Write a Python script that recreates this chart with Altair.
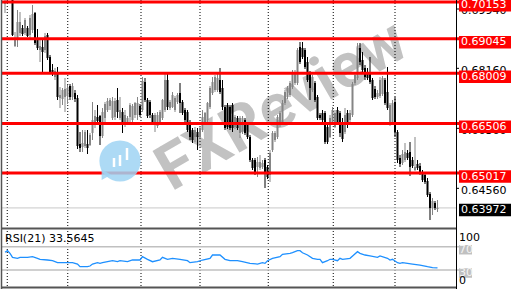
import altair as alt
import pandas as pd

# ---------------- data ----------------
opens = [
    0.7009, 0.7033, 0.7039, 0.7030, 0.6883, 0.6901, 0.6922, 0.6937, 0.6922, 0.6937,
    0.6916, 0.6931, 0.6982, 0.6904, 0.6871, 0.6880, 0.6871, 0.6916, 0.6850, 0.6811,
    0.6790, 0.6805, 0.6727, 0.6724, 0.6730, 0.6733, 0.6763, 0.6730, 0.6742, 0.6727,
    0.6589, 0.6580, 0.6583, 0.6589, 0.6586, 0.6622, 0.6649, 0.6670, 0.6673, 0.6613,
    0.6667, 0.6691, 0.6703, 0.6667, 0.6670, 0.6721, 0.6667, 0.6685, 0.6646, 0.6652,
    0.6670, 0.6661, 0.6676, 0.6676, 0.6703, 0.6691, 0.6775, 0.6721, 0.6715, 0.6676,
    0.6646, 0.6643, 0.6652, 0.6667, 0.6691, 0.6781, 0.6697, 0.6700, 0.6691, 0.6715,
    0.6742, 0.6715, 0.6691, 0.6685, 0.6652, 0.6631, 0.6610, 0.6625, 0.6610, 0.6631,
    0.6652, 0.6661, 0.6700, 0.6742, 0.6751, 0.6751, 0.6781, 0.6757, 0.6700, 0.6706,
    0.6700, 0.6706, 0.6640, 0.6667, 0.6622, 0.6625, 0.6661, 0.6646, 0.6610, 0.6541,
    0.6541, 0.6520, 0.6517, 0.6520, 0.6541, 0.6520, 0.6496, 0.6571, 0.6601, 0.6610,
    0.6646, 0.6652, 0.6712, 0.6730, 0.6736, 0.6760, 0.6772, 0.6772, 0.6880, 0.6877,
    0.6871, 0.6835, 0.6802, 0.6751, 0.6772, 0.6730, 0.6676, 0.6682, 0.6682, 0.6640,
    0.6610, 0.6652, 0.6640, 0.6691, 0.6682, 0.6655, 0.6625, 0.6682, 0.6661, 0.6676,
    0.6772, 0.6787, 0.6877, 0.6841, 0.6817, 0.6805, 0.6802, 0.6781, 0.6754, 0.6730,
    0.6733, 0.6739, 0.6781, 0.6745, 0.6649, 0.6655, 0.6715, 0.6625, 0.6547, 0.6532,
    0.6541, 0.6562, 0.6565, 0.6541, 0.6511, 0.6529, 0.6523, 0.6505, 0.6496, 0.6478,
    0.6439, 0.6397, 0.6412, 0.6394,
]
highs = [
    0.7021, 0.7051, 0.7057, 0.7036, 0.6925, 0.6991, 0.6985, 0.6946, 0.6967, 0.6943,
    0.6976, 0.7006, 0.6985, 0.6934, 0.6901, 0.6907, 0.6922, 0.6922, 0.6856, 0.6829,
    0.6817, 0.6820, 0.6760, 0.6757, 0.6787, 0.6766, 0.6769, 0.6772, 0.6751, 0.6736,
    0.6625, 0.6631, 0.6631, 0.6631, 0.6622, 0.6715, 0.6691, 0.6706, 0.6676, 0.6697,
    0.6715, 0.6727, 0.6727, 0.6730, 0.6727, 0.6757, 0.6730, 0.6697, 0.6691, 0.6673,
    0.6712, 0.6709, 0.6715, 0.6730, 0.6709, 0.6790, 0.6787, 0.6727, 0.6721, 0.6682,
    0.6682, 0.6685, 0.6691, 0.6724, 0.6805, 0.6805, 0.6721, 0.6745, 0.6733, 0.6742,
    0.6772, 0.6721, 0.6697, 0.6691, 0.6661, 0.6637, 0.6640, 0.6637, 0.6643, 0.6691,
    0.6685, 0.6715, 0.6763, 0.6790, 0.6796, 0.6802, 0.6817, 0.6781, 0.6706, 0.6712,
    0.6706, 0.6712, 0.6676, 0.6673, 0.6673, 0.6673, 0.6667, 0.6652, 0.6616, 0.6547,
    0.6547, 0.6550, 0.6556, 0.6541, 0.6547, 0.6526, 0.6571, 0.6628, 0.6628, 0.6676,
    0.6688, 0.6721, 0.6751, 0.6763, 0.6778, 0.6811, 0.6811, 0.6877, 0.6895, 0.6895,
    0.6877, 0.6850, 0.6808, 0.6796, 0.6778, 0.6736, 0.6682, 0.6691, 0.6688, 0.6646,
    0.6676, 0.6700, 0.6691, 0.6700, 0.6688, 0.6667, 0.6697, 0.6691, 0.6691, 0.6775,
    0.6805, 0.6892, 0.6892, 0.6865, 0.6826, 0.6817, 0.6850, 0.6787, 0.6763, 0.6751,
    0.6790, 0.6793, 0.6787, 0.6820, 0.6712, 0.6721, 0.6730, 0.6631, 0.6556, 0.6571,
    0.6592, 0.6571, 0.6595, 0.6550, 0.6610, 0.6541, 0.6532, 0.6511, 0.6505, 0.6487,
    0.6445, 0.6427, 0.6418, 0.6421,
]
lows = [
    0.6982, 0.7024, 0.7024, 0.6913, 0.6880, 0.6880, 0.6913, 0.6913, 0.6916, 0.6910,
    0.6907, 0.6922, 0.6886, 0.6871, 0.6835, 0.6805, 0.6862, 0.6841, 0.6799, 0.6793,
    0.6781, 0.6721, 0.6697, 0.6706, 0.6685, 0.6709, 0.6721, 0.6721, 0.6715, 0.6574,
    0.6565, 0.6565, 0.6577, 0.6559, 0.6583, 0.6601, 0.6637, 0.6646, 0.6586, 0.6607,
    0.6655, 0.6685, 0.6691, 0.6661, 0.6661, 0.6667, 0.6661, 0.6622, 0.6640, 0.6646,
    0.6652, 0.6655, 0.6667, 0.6661, 0.6670, 0.6685, 0.6715, 0.6667, 0.6667, 0.6649,
    0.6625, 0.6637, 0.6646, 0.6661, 0.6685, 0.6691, 0.6691, 0.6697, 0.6685, 0.6709,
    0.6682, 0.6676, 0.6655, 0.6625, 0.6601, 0.6592, 0.6595, 0.6571, 0.6604, 0.6625,
    0.6646, 0.6655, 0.6694, 0.6736, 0.6745, 0.6745, 0.6739, 0.6691, 0.6631, 0.6634,
    0.6631, 0.6625, 0.6634, 0.6631, 0.6607, 0.6619, 0.6616, 0.6604, 0.6535, 0.6511,
    0.6496, 0.6490, 0.6511, 0.6514, 0.6457, 0.6484, 0.6475, 0.6565, 0.6595, 0.6604,
    0.6640, 0.6646, 0.6706, 0.6724, 0.6730, 0.6754, 0.6766, 0.6766, 0.6829, 0.6844,
    0.6814, 0.6775, 0.6721, 0.6745, 0.6715, 0.6661, 0.6661, 0.6655, 0.6589, 0.6589,
    0.6607, 0.6646, 0.6637, 0.6649, 0.6610, 0.6595, 0.6619, 0.6637, 0.6655, 0.6670,
    0.6766, 0.6781, 0.6826, 0.6805, 0.6781, 0.6781, 0.6769, 0.6721, 0.6724, 0.6724,
    0.6727, 0.6733, 0.6706, 0.6691, 0.6643, 0.6649, 0.6610, 0.6532, 0.6520, 0.6526,
    0.6535, 0.6541, 0.6493, 0.6517, 0.6508, 0.6511, 0.6496, 0.6475, 0.6469, 0.6430,
    0.6361, 0.6376, 0.6391, 0.6385,
]
closes = [
    0.7015, 0.7039, 0.7030, 0.6916, 0.6907, 0.6955, 0.6955, 0.6919, 0.6961, 0.6913,
    0.6967, 0.6979, 0.6892, 0.6877, 0.6883, 0.6865, 0.6913, 0.6847, 0.6805, 0.6799,
    0.6808, 0.6730, 0.6736, 0.6751, 0.6754, 0.6757, 0.6730, 0.6763, 0.6724, 0.6583,
    0.6577, 0.6592, 0.6625, 0.6577, 0.6616, 0.6661, 0.6673, 0.6658, 0.6613, 0.6685,
    0.6709, 0.6718, 0.6721, 0.6718, 0.6718, 0.6685, 0.6691, 0.6652, 0.6676, 0.6667,
    0.6706, 0.6703, 0.6712, 0.6712, 0.6676, 0.6778, 0.6721, 0.6673, 0.6676, 0.6655,
    0.6676, 0.6676, 0.6685, 0.6721, 0.6781, 0.6700, 0.6715, 0.6736, 0.6727, 0.6736,
    0.6712, 0.6682, 0.6661, 0.6631, 0.6610, 0.6601, 0.6631, 0.6610, 0.6637, 0.6670,
    0.6682, 0.6712, 0.6757, 0.6775, 0.6790, 0.6787, 0.6745, 0.6700, 0.6637, 0.6640,
    0.6637, 0.6637, 0.6670, 0.6637, 0.6667, 0.6667, 0.6622, 0.6610, 0.6541, 0.6517,
    0.6502, 0.6535, 0.6535, 0.6532, 0.6502, 0.6490, 0.6562, 0.6622, 0.6622, 0.6670,
    0.6682, 0.6712, 0.6745, 0.6757, 0.6772, 0.6805, 0.6805, 0.6871, 0.6835, 0.6850,
    0.6820, 0.6781, 0.6757, 0.6790, 0.6721, 0.6667, 0.6667, 0.6661, 0.6595, 0.6595,
    0.6667, 0.6691, 0.6682, 0.6655, 0.6622, 0.6604, 0.6676, 0.6646, 0.6682, 0.6769,
    0.6796, 0.6877, 0.6835, 0.6811, 0.6790, 0.6787, 0.6775, 0.6727, 0.6730, 0.6742,
    0.6781, 0.6787, 0.6712, 0.6697, 0.6706, 0.6712, 0.6625, 0.6541, 0.6529, 0.6559,
    0.6565, 0.6547, 0.6520, 0.6523, 0.6520, 0.6517, 0.6502, 0.6481, 0.6475, 0.6436,
    0.6397, 0.6418, 0.6397, 0.63972,
]

rsi_idx = [0, 1, 2, 3, 5, 6, 9, 11, 13, 14, 17, 19, 21, 25, 27, 29, 30, 33, 34, 35,
           37, 38, 39, 41, 43, 45, 46, 49, 51, 54, 55, 57, 59, 62, 63, 65, 67, 70, 73, 74,
           77, 79, 82, 83, 86, 88, 90, 93, 95, 98, 101, 103, 104, 105, 107, 110, 111, 114, 115, 117,
           118, 119, 121, 123, 125, 126, 127, 129, 130, 131, 133, 134, 135, 138, 141, 142, 144, 146, 149, 150,
           153, 154, 155, 157, 158, 159, 161, 163, 166, 169, 171, 173]
rsi_val = [60.4, 63.2, 58.7, 51.8, 50.1, 51.8, 51.8, 52.9, 50.1, 48.4, 47.2, 46.0, 42.6, 42.6, 42.6, 40.3, 35.7, 35.7, 36.9, 40.3,
           42.6, 41.5, 42.6, 44.3, 46.0, 44.3, 46.0, 44.3, 47.2, 47.2, 52.9, 48.4, 44.3, 47.2, 51.8, 48.4, 50.1, 48.4, 46.0, 42.6,
           44.3, 47.2, 50.1, 55.8, 55.8, 48.4, 46.0, 46.0, 44.3, 41.5, 40.3, 42.6, 41.5, 46.0, 50.1, 52.9, 57.0, 58.7, 59.7, 63.2,
           63.2, 59.7, 55.8, 50.1, 48.4, 48.4, 42.6, 46.0, 48.4, 48.4, 46.0, 50.1, 48.4, 50.1, 61.5, 58.7, 55.8, 54.1, 51.8, 54.1,
           50.1, 47.2, 48.4, 42.6, 41.5, 42.6, 41.5, 40.3, 38.6, 35.7, 34.0, 33.56]

grid_idx = [0.9, 25.1, 54.4, 78, 105.3, 131.3, 156]

level_prices = [0.70153, 0.69045, 0.68009, 0.66506, 0.65017]
level_labels = ["0.70153", "0.69045", "0.68009", "0.66506", "0.65017"]
tick_prices = [0.69940, 0.68160, 0.66360, 0.64560]
tick_labels = ["0.69940", "0.68160", "0.66360", "0.64560"]
last_price = [0.63972]
last_label = ["0.63972"]
rsi_levels = [70, 30]
rsi_level_labels = ["70", "30"]
rsi_title = "RSI(21) 33.5645"
watermark = "FXReview"

# ---------------- scales ----------------
FONT = "DejaVu Sans"
X_SCALE = alt.Scale(domain=[0, 173], range=[5, 437.5], padding=0, nice=False, zero=False)
P_SCALE = alt.Scale(domain=[0.6337, 0.7021], range=[228, 0], nice=False, zero=False)
R_SCALE = alt.Scale(domain=[0, 100], range=[287.5, 229.25], nice=False, zero=False)


def xi(field="i"):
    return alt.X(f"{field}:Q", scale=X_SCALE, axis=None)


def yp(field):
    return alt.Y(f"{field}:Q", scale=P_SCALE, axis=None)


def yr(field):
    return alt.Y(f"{field}:Q", scale=R_SCALE, axis=None)


candles = pd.DataFrame({"i": list(range(len(closes))), "open": opens, "high": highs,
                        "low": lows, "close": closes})
candles["dir"] = ["up" if c >= o else "down" for o, c in zip(opens, closes)]
rsi_df = pd.DataFrame({"i": rsi_idx, "rsi": rsi_val})
grid_df = pd.DataFrame({"i": grid_idx})
levels_df = pd.DataFrame({"p": level_prices, "t": level_labels})
ticks_df = pd.DataFrame({"p": tick_prices, "t": tick_labels})
last_df = pd.DataFrame({"p": last_price, "t": last_label})
rlev_df = pd.DataFrame({"r": rsi_levels, "t": rsi_level_labels})
one = pd.DataFrame({"k": [0]})

color = alt.Color("dir:N", scale=alt.Scale(domain=["up", "down"], range=["#858585", "#000000"]), legend=None)

# watermark
wm_text = alt.Chart(one).mark_text(text=watermark, font="Roboto", fontWeight="bold",
                                   fontSize=63, angle=330, color="#c2c2c2", align="center",
                                   baseline="middle").encode(x=alt.value(282), y=alt.value(106))

grid = alt.Chart(grid_df).mark_rule(color="#000000", strokeWidth=1, strokeDash=[1, 2]).encode(
    x=xi(), y=alt.value(0), y2=alt.value(287))

last_line = alt.Chart(last_df).mark_rule(color="#c8c8c8", strokeWidth=1).encode(
    y=yp("p"), x=alt.value(2), x2=alt.value(456))

wicks = alt.Chart(candles).mark_rule(strokeWidth=1).encode(
    x=xi(), y=yp("high"), y2=alt.Y2("low:Q"), color=color)
bodies = alt.Chart(candles).mark_bar(size=2).encode(
    x=xi(), y=yp("open"), y2=alt.Y2("close:Q"), color=color)

red_lines = alt.Chart(levels_df).mark_rule(color="#ff0000", strokeWidth=3).encode(
    y=yp("p"), x=alt.value(2), x2=alt.value(460))

# logo watermark
logo = alt.Chart(one).mark_point(shape="circle", filled=True, size=1700, color="#9fd3f3",
                                 opacity=0.85).encode(x=alt.value(120), y=alt.value(161))
logo_tail = alt.Chart(one).mark_point(shape="triangle-down", filled=True, size=120, color="#9fd3f3",
                                      opacity=0.85, angle=30).encode(x=alt.value(104), y=alt.value(176))
icon_a = alt.Chart(one).mark_rule(color="white", strokeWidth=2.5).encode(
    x=alt.value(114), y=alt.value(158), y2=alt.value(167))
icon_b = alt.Chart(one).mark_rule(color="white", strokeWidth=2.5).encode(
    x=alt.value(120), y=alt.value(155), y2=alt.value(166))
icon_c = alt.Chart(one).mark_rule(color="white", strokeWidth=2.5).encode(
    x=alt.value(127), y=alt.value(148), y2=alt.value(160))

# right axis
axis_line = alt.Chart(one).mark_rule(color="#000000", strokeWidth=1).encode(
    x=alt.value(456.5), y=alt.value(0), y2=alt.value(289))
tick_marks = alt.Chart(ticks_df).mark_rule(color="#000000").encode(
    y=yp("p"), x=alt.value(456), x2=alt.value(459))
tick_text = alt.Chart(ticks_df).mark_text(align="left", baseline="middle", dy=2.4, font=FONT,
                                          fontSize=11, color="#000000").encode(
    y=yp("p"), x=alt.value(461), text="t:N")
red_boxes = alt.Chart(levels_df).mark_rule(color="#ff0000", strokeWidth=12.5, yOffset=3.3,
                                           strokeCap="butt").encode(
    y=yp("p"), x=alt.value(459), x2=alt.value(511))
red_text = alt.Chart(levels_df).mark_text(align="left", baseline="middle", dy=3.4, font=FONT,
                                          fontSize=11, color="#ffffff").encode(
    y=yp("p"), x=alt.value(461), text="t:N")
last_box = alt.Chart(last_df).mark_rule(color="#000000", strokeWidth=12.5, yOffset=2,
                                        strokeCap="butt").encode(
    y=yp("p"), x=alt.value(459), x2=alt.value(511))
last_text = alt.Chart(last_df).mark_text(align="left", baseline="middle", dy=2.1, font=FONT,
                                         fontSize=11, color="#ffffff").encode(
    y=yp("p"), x=alt.value(461), text="t:N")

# frame
main_bottom = alt.Chart(one).mark_rule(color="#555555", strokeWidth=2).encode(
    y=alt.value(228.5), x=alt.value(1), x2=alt.value(456))
rsi_bottom = alt.Chart(one).mark_rule(color="#555555", strokeWidth=2).encode(
    y=alt.value(287.5), x=alt.value(1), x2=alt.value(456))
left_border = alt.Chart(one).mark_rule(color="#555555", strokeWidth=1.5).encode(
    x=alt.value(1.5), y=alt.value(0), y2=alt.value(289))

# RSI panel
rsi_lines = alt.Chart(rlev_df).mark_rule(color="#c0c0c0", strokeWidth=1.6).encode(
    y=yr("r"), x=alt.value(2), x2=alt.value(459))
rsi_boxes = alt.Chart(rlev_df).mark_rule(color="#c0c0c0", strokeWidth=9.5, yOffset=3,
                                         strokeCap="butt").encode(
    y=yr("r"), x=alt.value(459), x2=alt.value(472))
rsi_box_text = alt.Chart(rlev_df).mark_text(align="left", baseline="middle", dy=3.2, font=FONT,
                                            fontSize=11, color="#f4f4f4").encode(
    y=yr("r"), x=alt.value(459), text="t:N")
rsi_100 = alt.Chart(one).mark_text(text="100", align="left", baseline="middle", font=FONT,
                                   fontSize=11, color="#000000").encode(x=alt.value(459), y=alt.value(237.5))
rsi_0 = alt.Chart(one).mark_text(text="0", align="left", baseline="middle", font=FONT,
                                 fontSize=11, color="#000000").encode(x=alt.value(459), y=alt.value(281))
rsi_line = alt.Chart(rsi_df).mark_line(color="#1e90ff", strokeWidth=1.3).encode(x=xi(), y=yr("rsi"))
rsi_label = alt.Chart(one).mark_text(text=rsi_title, align="left", baseline="middle", font=FONT,
                                     fontSize=11, color="#000000").encode(x=alt.value(5), y=alt.value(238.5))

chart = alt.layer(
    wm_text, grid, last_line, wicks, bodies, red_lines,
    logo, logo_tail, icon_a, icon_b, icon_c,
    rsi_lines, rsi_line, rsi_label,
    main_bottom, rsi_bottom, left_border,
    tick_marks, tick_text, red_boxes, red_text, last_box, last_text,
    rsi_boxes, rsi_box_text, rsi_100, rsi_0, axis_line,
).resolve_scale(y="independent").properties(
    width=516, height=289, padding=0, autosize="none", background="#ffffff"
).configure_view(strokeWidth=0)

chart.save("out.html", embed_options={"renderer": "svg", "actions": False})
